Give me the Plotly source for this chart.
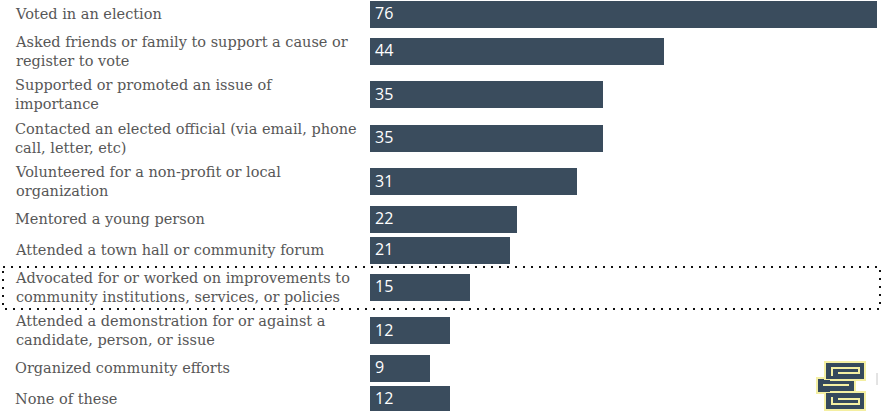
import plotly.graph_objects as go

# Survey responses: share of respondents (%) who took each civic action
categories = [
    "Voted in an election",
    "Asked friends or family to support a cause or<br>register to vote",
    "Supported or promoted an issue of<br>importance",
    "Contacted an elected official (via email, phone<br>call, letter, etc)",
    "Volunteered for a non-profit or local<br>organization",
    "Mentored a young person",
    "Attended a town hall or community forum",
    "Advocated for or worked on improvements to<br>community institutions, services, or policies",
    "Attended a demonstration for or against a<br>candidate, person, or issue",
    "Organized community efforts",
    "None of these",
]
values = [76, 44, 35, 35, 31, 22, 21, 15, 12, 9, 12]
highlighted = "Advocated for or worked on improvements to<br>community institutions, services, or policies"

W, H = 885, 411
BAR_COLOR = "#3a4c5d"
LABEL_COLOR = "#575757"
LABEL_FONT = "DejaVu Serif, serif"
VALUE_FONT = "Open Sans, Noto Sans, sans-serif"

# Row layout: each row grows with the number of text lines in its label
ROW_PAD, LINE_STEP, BAR_THICK = 18.5, 12.5, 27
Y_TOP = 1.5  # axis value shown at the top edge of the figure
heights = [ROW_PAD + LINE_STEP * (c.count("<br>") + 1) for c in categories]
tops, acc = [], 0.0
for h in heights:
    tops.append(acc)
    acc += h
centers = [t + h / 2 for t, h in zip(tops, heights)]

X0_PX, X1_PX = 370, 877


def px_x(px):
    return px / W


def px_y(py):
    return 1 - py / H


def data_y(y):
    return (Y_TOP + H - y) / H


fig = go.Figure(
    go.Bar(
        x=values,
        y=centers,
        orientation="h",
        width=[BAR_THICK] * len(values),
        marker=dict(color=BAR_COLOR, line=dict(width=0)),
        hoverinfo="skip",
    )
)

annotations = []
for c, v, yc in zip(categories, values, centers):
    # category label, left aligned in the left column
    annotations.append(
        dict(
            x=px_x(13), xref="paper", xanchor="left",
            y=yc, yref="y", yanchor="middle",
            text=c, align="left", showarrow=False,
            font=dict(family=LABEL_FONT, size=14.5, color=LABEL_COLOR),
        )
    )
    # value label inside the start of the bar
    annotations.append(
        dict(
            x=0, xref="x", xanchor="left", xshift=3,
            y=yc, yref="y", yanchor="middle", yshift=1,
            text=str(v), showarrow=False,
            font=dict(family=VALUE_FONT, size=16, color="#ffffff"),
        )
    )

shapes = []
# dotted frame around the highlighted row
i = categories.index(highlighted)
shapes.append(
    dict(
        type="rect", xref="paper", yref="paper",
        x0=px_x(3), x1=px_x(880),
        y0=data_y(tops[i] + 1.5), y1=data_y(tops[i] + heights[i]),
        line=dict(color="#111111", width=2, dash="2px,6px"),
        fillcolor="rgba(0,0,0,0)",
    )
)

# small logo mark in the lower right corner
NAVY, PALE = "#35495c", "#f4efa2"


def rect_px(x0, y0, x1, y1):
    return dict(type="rect", xref="paper", yref="paper",
                x0=px_x(x0), x1=px_x(x1), y0=px_y(y0), y1=px_y(y1),
                fillcolor=NAVY, line=dict(color=PALE, width=2))


def path_px(pts):
    d = "M " + " L ".join(f"{px_x(x):.5f},{px_y(y):.5f}" for x, y in pts)
    return dict(type="path", xref="paper", yref="paper", path=d,
                line=dict(color=PALE, width=2))


shapes += [
    rect_px(817, 378, 855, 393),
    rect_px(825, 362, 865, 380),
    rect_px(825, 392, 865, 410),
    dict(type="rect", xref="paper", yref="paper",
         x0=px_x(820), x1=px_x(830), y0=px_y(380), y1=px_y(392),
         fillcolor=NAVY, line=dict(width=0)),
    path_px([(832, 376), (832, 368), (859, 368), (859, 373), (838, 373)]),
    path_px([(823, 385), (849, 385)]),
    path_px([(832, 397), (832, 404), (859, 404), (859, 399), (838, 399)]),
    dict(type="line", xref="paper", yref="paper",
         x0=px_x(877), x1=px_x(877), y0=px_y(373), y1=px_y(385),
         line=dict(color="#c8c8c8", width=1)),
]

fig.update_layout(
    width=W, height=H,
    margin=dict(l=0, r=0, t=0, b=0),
    paper_bgcolor="#ffffff", plot_bgcolor="#ffffff",
    showlegend=False,
    xaxis=dict(domain=[px_x(X0_PX), px_x(X1_PX)], range=[0, max(values)],
               visible=False, fixedrange=True),
    yaxis=dict(range=[Y_TOP + H, Y_TOP], visible=False, fixedrange=True),
    annotations=annotations,
    shapes=shapes,
    bargap=0,
)

fig.write_html("out.html", config={"displayModeBar": False})
